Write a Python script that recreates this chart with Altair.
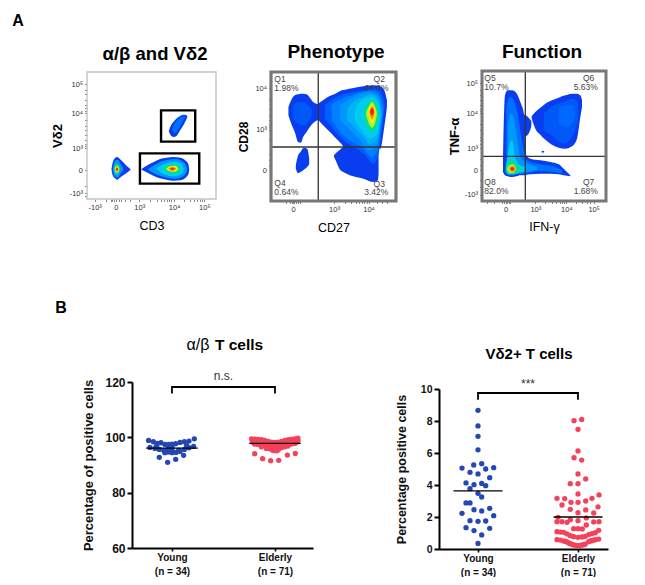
import altair as alt
import pandas as pd

FONT = "Liberation Sans"

# ---------- B panels: swarm values ----------
AB_YOUNG_OFF = [-.227,-.181,-.142,-.107,-.068,-.032,0,.036,.078,.12,.165,.217,
                -.214,-.165,-.123,-.078,-.036,0,.039,.078,.12,.165,.21,
                -.123,-.042,.036,.113,-.068,0,.065,-.149,.142,0,-.036]
AB_YOUNG_VAL = [98.88,98.4,97.8,98.04,97.44,97.44,97.56,97.68,98.16,98.4,98.64,99.48,
                96.36,96,95.64,95.16,94.68,94.44,94.56,94.92,95.64,96.24,96.72,
                92.76,90.96,92.04,93.48,94.44,95.4,95.4,96.96,97.08,96.36,96]
AB_ELD_OFF = [-.227,-.194,-.162,-.129,-.097,-.065,-.032,0,.032,.065,.097,.129,.162,.194,.223,
              -.22,-.188,-.155,-.123,-.091,-.058,-.026,.006,.039,.071,.104,.136,.168,.201,.223,
              -.197,-.165,-.133,-.1,-.068,-.036,0,.032,.065,.097,.129,.162,.194,
              -.197,-.12,-.042,.036,.12,.197,
              -.181,-.149,-.117,-.084,-.052,-.019,.019,.052,.084,.117,.149,.181,.214,-.207,
              -.019,.019,-.084,-.052,.052,.094,.126,-.133]
AB_ELD_VAL = [99.48,99.36,99.24,99.12,98.88,98.52,98.28,98.16,98.28,98.52,98.88,99.12,99.36,99.48,99.72,
              98.64,98.52,98.4,98.16,97.92,97.56,97.2,97.08,97.32,97.68,98.04,98.28,98.52,98.76,98.88,
              97.56,97.44,97.2,96.96,96.36,95.76,95.16,95.64,96.36,96.96,97.32,97.56,97.8,
              94.08,92.28,91.56,91.68,93.6,94.2,
              98.04,97.8,97.56,97.32,96.72,96.36,96.36,96.84,97.32,97.68,97.92,98.16,98.28,98.04,
              95.28,95.16,96,95.88,96.12,96.6,96.84,96.6]
VD_YOUNG_OFF = [0,0,0,0,-.16,-.043,.037,.077,.157,-.08,0,.117,-.12,-.04,.037,.077,-.08,0,.037,
                -.12,-.08,.117,-.04,.037,-.16,.157,-.08,0,.077,-.12,-.04,.117,.037,0]
VD_YOUNG_VAL = [8.67,7.69,7.04,6.2,5.06,5.25,5.33,5.0,5.08,4.79,4.69,4.46,4.13,4.02,4.1,3.96,3.77,3.48,3.25,
                2.88,2.88,2.54,2.46,2.38,2.23,2.08,1.77,1.73,1.75,1.33,1.15,1.29,.88,.35]
VD_ELD_OFF = [-.04,.037,0,0,-.04,.037,0,.077,-.077,0,0,.21,-.21,-.133,.14,.077,-.07,0,
              -.16,.2,-.077,.077,0,.157,-.2,-.21,-.16,-.11,0,-.077,.083,.157,.21,.083,
              -.043,0,.043,
              -.21,-.177,-.143,-.11,-.077,-.043,0,.04,.073,.107,.14,.173,.207,
              -.21,-.177,-.143,-.11,-.077,-.043,0,.04,.073,.107,.14,.173,.207,
              -.06,-.02,.02,.057,-.093,-.127,.123,.157]
VD_ELD_VAL = [8.02,8.1,7.48,6.13,5.71,5.56,4.69,4.38,4.08,4.08,3.44,3.38,3.17,3.15,3.17,3.0,2.92,2.92,
              2.75,2.63,2.48,2.44,2.27,2.25,1.98,1.71,1.71,1.67,1.77,1.83,1.94,1.69,1.71,1.5,
              1.27,1.27,1.25,
              1.08,1.06,1.04,.94,.83,.77,.73,.75,.79,.9,.96,1.02,1.17,
              .58,.56,.5,.44,.33,.25,.21,.25,.31,.46,.52,.58,.62,
              .29,.23,.23,.27,.38,.48,.5,.56]
MEANS_AB = [96.1, 97.8]
MEANS_VD = [3.63, 2.0]
GROUP_LABELS = ["Young", "(n = 34)", "Elderly", "(n = 71)"]
BLUE, RED = "#2347b5", "#f5415a"

# ---------- A panels: density contours, channel units (x, top, bottom) ----------
C = ["#0a3cf0", "#0070ff", "#0098ff", "#00ccf0", "#00e090", "#b0f030", "#f8f000", "#ff9000", "#f02000"]

A1_BLOBS = [
 (C[0], [(386,275,275),(392,258,287),(400,247,292),(410,236,288),(420,229,272),(430,225,256),(438,226,240),(442,232,232)]),
 (C[1], [(396,270,270),(403,252,280),(412,240,274),(422,233,256),(432,230,238),(436,233,233)]),
 (C[0], [(215,388,388),(218,372,405),(225,356,415),(232,352,420),(240,358,414),(250,368,407),(260,378,400),(272,389,390)]),
 (C[2], [(219,388,388),(222,372,405),(228,362,412),(234,360,414),(242,372,402),(250,385,392)]),
 (C[4], [(222,388,388),(225,378,400),(230,372,405),(236,375,402),(242,388,388)]),
 (C[6], [(225,388,388),(228,380,398),(234,380,398),(238,388,388)]),
 (C[7], [(227,388,388),(231,382,396),(236,388,388)]),
 (C[8], [(228,388,388),(231.5,384,394),(235,389,389)]),
 (C[0], [(305,388,390),(320,378,398),(340,368,408),(360,358,416),(380,354,420),(400,352,423),(420,354,422),(435,362,415),(445,375,402),(447,388,390)]),
 (C[2], [(325,387,390),(345,376,402),(365,365,410),(385,360,415),(405,358,417),(425,364,412),(438,378,400),(441,388,388)]),
 (C[3], [(350,386,389),(365,376,400),(385,369,408),(405,366,410),(425,375,402),(432,388,388)]),
 (C[4], [(368,387,387),(380,378,398),(400,373,402),(418,378,397),(424,388,388)]),
 (C[6], [(378,387,387),(390,380,395),(405,378,396),(415,387,387)]),
 (C[7], [(385,387,387),(397,381,393),(410,387,387)]),
 (C[8], [(390,387,387),(397,384,391),(404,387,387)]),
]
A2_BLOBS = [
 (C[0], [(176,200,225),(185,178,252),(195,165,275),(205,162,305),(213,160,307),(220,160,290),(230,162,275),(240,172,260),(250,185,248),(265,192,238)]),
 ("#0058f8", [(190,195,235),(205,185,250),(220,185,255),(235,195,245),(245,205,230)]),
 (C[0], [(198,375,385),(205,345,398),(212,335,395),(222,322,388),(232,325,380),(238,355,372)]),
 (C[0], [(312,345,349),(318,338,362),(328,330,385),(345,318,398),(370,318,408),(400,318,415),(430,318,425),(443,318,420),(445,320,400)]),
 (C[0], [(262,192,236),(275,183,250),(290,172,265),(305,165,280),(320,158,296),(335,150,312),(345,148,325),(370,143,325),(400,138,325),(430,135,325),(450,138,325),(462,150,260),(470,180,200)]),
 ("#0060ff", [(285,195,235),(310,175,265),(340,162,300),(370,155,320),(400,150,340),(430,145,370),(445,150,340),(458,170,240),(463,195,200)]),
 ("#0080ff", [(305,190,240),(335,175,280),(365,165,305),(395,155,320),(425,150,350),(443,158,325),(455,180,245),(460,205,210)]),
 (C[2], [(330,195,240),(360,175,270),(390,160,300),(420,155,330),(442,165,310),(452,190,250),(456,215,220)]),
 ("#00b4f8", [(352,205,240),(375,180,262),(400,170,290),(420,162,312),(441,172,295),(450,200,245),(453,215,225)]),
 (C[3], [(375,205,240),(395,180,270),(420,170,295),(440,180,280),(449,210,240)]),
 (C[4], [(400,210,235),(412,190,260),(425,178,275),(438,192,262),(445,215,235)]),
 (C[5], [(408,215,225),(416,198,250),(425,185,262),(434,198,250),(440,215,225)]),
 (C[6], [(414,215,215),(420,198,240),(426,190,250),(432,200,238),(436,215,215)]),
 (C[7], [(417,215,215),(422,202,232),(426,196,238),(431,205,228),(433,215,215)]),
 (C[8], [(420,214,214),(424,204,225),(428,204,225),(431,214,214)]),
]
A3_BLOBS = [
 (C[0], [(304,228,234),(315,215,265),(330,202,283),(345,190,298),(365,180,313),(385,172,322),(405,165,325),(425,160,318),(440,160,295),(450,165,230),(455,180,200)]),
 ("#0058f8", [(340,220,270),(370,195,290),(400,185,310),(425,175,290),(443,185,240)]),
 ("#0068ff", [(385,205,250),(405,195,260),(425,195,250),(435,215,225)]),
 (C[0], [(333,334,334),(338,331,337),(342,334,334)]),
 (C[0], [(280,222,290),(295,232,280),(303,242,258)]),
 (C[0], [(218,375,395),(224,165,405),(232,150,408),(245,150,410),(258,158,408),(270,185,405),(282,228,405),(285,340,404),(300,355,402),(330,360,400),(360,365,400),(385,372,402),(400,385,405),(420,405,408)]),
 (C[1], [(228,200,400),(238,170,405),(250,180,405),(262,220,400),(275,300,400),(290,360,398),(330,372,392),(370,378,395),(395,390,400)]),
 (C[2], [(232,260,400),(240,220,402),(250,230,402),(258,280,400),(270,350,400),(290,368,395),(320,378,388)]),
 (C[3], [(228,375,395),(236,320,402),(245,300,402),(254,350,398),(265,372,396),(285,380,392)]),
 (C[4], [(226,378,395),(235,362,402),(248,360,402),(262,375,398),(275,385,390)]),
 (C[5], [(230,385,385),(238,374,398),(248,372,398),(258,385,385)]),
 (C[7], [(237,385,385),(243,378,394),(250,378,394),(256,385,385)]),
 (C[8], [(240,385,385),(246,381,391),(252,385,385)]),
]

# gate rectangles (x, x2, y, y2) and quadrant lines
A1_GATES = [(363,465,212,306),(300,477,341,432)]
A2_QUAD = (265, 320)
A3_QUAD = (285, 348)
A2_TEXT = [("Q1",134,117,"left"),("1.98%",134,143,"left"),("Q2",430,115,"left"),("94.0%",403,143,"left"),
           ("Q3",430,430,"left"),("3.42%",402,456,"left"),("Q4",134,428,"left"),("0.64%",134,456,"left")]
A3_TEXT = [("Q5",162,112,"left"),("10.7%",162,140,"left"),("Q6",458,112,"left"),("5.63%",430,141,"left"),
           ("Q8",162,425,"left"),("82.0%",162,452,"left"),("Q7",458,425,"left"),("1.68%",430,452,"left")]

A1_XT = {165:"-10³",228:"0",298:"10³",402:"10⁴",492:"10⁵"}
A1_YT = {133:"10⁵",221:"10⁴",326:"10³",391:"0",461:"-10³"}
A2_XT = {190:"0",312:"10³",415:"10⁴"}
A2_YT = {143:"10⁴",268:"10³",390:"0"}
A3_XT = {226:"0",315:"10³",408:"10⁴",490:"10⁵"}
A3_YT = {128:"10⁵",218:"10⁴",323:"10³",390:"0",463:"-10³"}
A1_XM = [200,214,218,222,238,242,256,270,330,350,362,372,380,388,394,432,450,462,470,478,484]
A1_YM = [150,162,180,195,205,213,240,258,270,285,300,312,320,440,470]
A2_XM = [170,180,186,194,200,205,210,344,364,378,388,396,403,409,440,455,470]
A2_YM = [180,205,225,240,250,260,300,340,360,378]
A3_XM = [170,190,215,222,230,235,240,345,365,378,388,395,401,437,455,470,480]
A3_YM = [150,165,180,195,205,212,250,270,290,300,312,355,375,420,440]

H = 569
A1 = dict(xd=[142,527], xr=[79,208], yd=[478,97], yr=[191,64])
A2 = dict(xd=[124,497], xr=[263,388], yd=[482,95], yr=[193,64])
A3 = dict(xd=[155,527], xr=[474,598], yd=[482,92], yr=[193,63])
B1 = dict(xd=[0.612,2.369], xr=[124,305], yd=[60,120], yr=[540,374])
B2 = dict(xd=[0.61,2.30], xr=[431,600], yd=[0,10], yr=[541,381])


def sc(dom, rng):
    return alt.Scale(domain=dom, range=rng, nice=False, zero=False)


def X(p, f="x", axis=None):
    return alt.X(f"{f}:Q", scale=sc(p["xd"], p["xr"]), axis=axis, title=None)


def Y(p, f="y", axis=None):
    return alt.Y(f"{f}:Q", scale=sc(p["yd"], p["yr"]), axis=axis, title=None)


def expr(ticks):
    s = "''"
    for k, v in ticks.items():
        s = f"datum.value=={k}?'{v}':({s})"
    return s


def flow_axes(p, xt, yt, xm, ym, xtitle, ytitle, xpad, ypad, ysize=13):
    common = dict(domain=False, grid=False, tickColor="#555", tickSize=2.5, tickWidth=0.7,
                  labelFont=FONT, labelFontSize=7.5, labelColor="#333", labelPadding=2,
                  titleFont=FONT, titleColor="black")
    ax = alt.Axis(orient="bottom", offset=p["yr"][0] - H, values=list(xt) + xm, labelExpr=expr(xt),
                  labelOverlap=False, title=xtitle, titlePadding=xpad, titleFontWeight="normal",
                  titleFontSize=12.5, **common)
    ay = alt.Axis(orient="left", offset=-p["xr"][0], values=list(yt) + ym, labelExpr=expr(yt),
                  labelOverlap=False, title=ytitle, titlePadding=ypad, titleFontWeight="bold",
                  titleFontSize=ysize, **common)
    return ax, ay


def flow_panel(p, blobs, axes, frame_color, frame_w, gates=(), quad=None, texts=()):
    layers = []
    ax, ay = axes
    fr = pd.DataFrame({"x": [p["xd"][0]], "x2": [p["xd"][1]], "y": [p["yd"][0]], "y2": [p["yd"][1]]})
    layers.append(alt.Chart(fr).mark_rect(fillOpacity=0, opacity=0).encode(
        x=alt.X("x:Q", scale=sc(p["xd"], p["xr"]), axis=ax), x2="x2:Q",
        y=alt.Y("y:Q", scale=sc(p["yd"], p["yr"]), axis=ay), y2="y2:Q"))
    rows = []
    for i, (col, cols) in enumerate(blobs):
        for (x, t, b) in cols:
            rows.append({"id": f"{i:02d}", "c": col, "x": x, "y": t, "y2": b})
    layers.append(alt.Chart(pd.DataFrame(rows)).mark_area(interpolate="monotone").encode(
        x=X(p), y=Y(p), y2="y2:Q", detail="id:N", color=alt.Color("c:N", scale=None)))
    if quad:
        q1 = pd.DataFrame({"x": [quad[0]], "y": [p["yd"][0]], "y2": [p["yd"][1]]})
        q2 = pd.DataFrame({"x": [p["xd"][0]], "x2": [p["xd"][1]], "y": [quad[1]]})
        layers.append(alt.Chart(q1).mark_rule(color="#333", strokeWidth=1.3).encode(x=X(p), y=Y(p), y2="y2:Q"))
        layers.append(alt.Chart(q2).mark_rule(color="#333", strokeWidth=1.3).encode(x=X(p), x2="x2:Q", y=Y(p)))
    if texts:
        tdf = pd.DataFrame(texts, columns=["t", "x", "y", "a"])
        layers.append(alt.Chart(tdf).mark_text(align="left", baseline="middle", font=FONT, fontSize=8.5, color="#444").encode(
            x=X(p), y=Y(p), text="t:N"))
    if gates:
        gdf = pd.DataFrame(gates, columns=["x", "x2", "y", "y2"])
        layers.append(alt.Chart(gdf).mark_rect(fillOpacity=0, stroke="black", strokeWidth=2.4).encode(
            x=X(p), x2="x2:Q", y=Y(p), y2="y2:Q"))
    layers.append(alt.Chart(fr).mark_rect(fillOpacity=0, stroke=frame_color, strokeWidth=frame_w).encode(
        x=X(p), x2="x2:Q", y=Y(p), y2="y2:Q"))
    return layers


def swarm_panel(p, young, eld, means, ticks, ytitle, ypad, lab_size, title_size, bracket, star, tick_label_expr, mean_half):
    layers = []
    ax = alt.Axis(orient="bottom", offset=p["yr"][0] - H, values=[1, 2], grid=False, domainColor="black", domainWidth=2,
                  tickColor="black", tickWidth=1.6, tickSize=3, labelFont=FONT, labelFontWeight="bold", labelFontSize=10,
                  labelColor="#111", labelPadding=1, labelLineHeight=14, labelExpr=tick_label_expr, title=None, labelAngle=0)
    ay = alt.Axis(orient="left", offset=-p["xr"][0], values=ticks, grid=False, domainColor="black", domainWidth=2,
                  tickColor="black", tickWidth=2, tickSize=5, labelFont=FONT, labelFontWeight="bold", labelFontSize=lab_size,
                  labelColor="#111", labelPadding=2, title=ytitle, titleFont=FONT, titleFontWeight="bold",
                  titleFontSize=title_size, titleColor="#111", titlePadding=ypad)
    for k, (off, val, col) in enumerate([young + (BLUE,), eld + (RED,)]):
        df = pd.DataFrame({"x": [k + 1 + o for o in off], "y": val})
        layers.append(alt.Chart(df).mark_point(filled=True, shape="circle", size=28, opacity=1, color=col).encode(
            x=X(p, axis=ax if k == 0 else None), y=Y(p, axis=ay if k == 0 else None)))
    mdf = pd.DataFrame({"x": [1 - mean_half, 2 - mean_half], "x2": [1 + mean_half, 2 + mean_half], "y": means})
    layers.append(alt.Chart(mdf).mark_rule(color="black", strokeWidth=1.4).encode(x=X(p), x2="x2:Q", y=Y(p)))
    bdf = pd.DataFrame({"x": [1, 1, 2, 2], "y": [bracket[0], bracket[1], bracket[1], bracket[0]], "o": [0, 1, 2, 3]})
    layers.append(alt.Chart(bdf).mark_line(color="black", strokeWidth=1.8, interpolate="linear").encode(
        x=X(p), y=Y(p), order="o:Q"))
    sdf = pd.DataFrame({"x": [1.5], "y": [star[1]], "t": [star[0]]})
    layers.append(alt.Chart(sdf).mark_text(font=FONT, fontSize=12, baseline="middle", color="#333").encode(
        x=X(p), y=Y(p), text="t:N"))
    return layers


def label(text, px, py, size, weight="bold", align="center", color="black"):
    return alt.Chart(pd.DataFrame({"t": [text]})).mark_text(
        font=FONT, fontSize=size, fontWeight=weight, align=align, baseline="middle", color=color).encode(
        x=alt.value(px - 8), y=alt.value(py - 8), text="t:N")


group_expr = f"datum.value==1?['{GROUP_LABELS[0]}','{GROUP_LABELS[1]}']:['{GROUP_LABELS[2]}','{GROUP_LABELS[3]}']"

layers = []
layers += flow_panel(A1, A1_BLOBS, flow_axes(A1, A1_XT, A1_YT, A1_XM, A1_YM, "CD3", "Vδ2", 8, 5),
                     "#c4c4c4", 1.4, gates=A1_GATES)
layers += flow_panel(A2, A2_BLOBS, flow_axes(A2, A2_XT, A2_YT, A2_XM, A2_YM, "CD27", "CD28", 8, 4, ysize=12),
                     "#777777", 3.2, quad=A2_QUAD, texts=A2_TEXT)
layers += flow_panel(A3, A3_BLOBS, flow_axes(A3, A3_XT, A3_YT, A3_XM, A3_YM, "IFN-γ", "TNF-α", 7, 3),
                     "#777777", 3.0, quad=A3_QUAD, texts=A3_TEXT)
layers += swarm_panel(B1, (AB_YOUNG_OFF, AB_YOUNG_VAL), (AB_ELD_OFF, AB_ELD_VAL), MEANS_AB, [60, 80, 100, 120],
                      "Percentage of positive cells", 9, 12, 13, (115.8, 118.2), ("n.s.", 122.2), group_expr, 0.25)
layers += swarm_panel(B2, (VD_YOUNG_OFF, VD_YOUNG_VAL), (VD_ELD_OFF, VD_ELD_VAL), MEANS_VD, [0, 2, 4, 6, 8, 10],
                      "Percentage positive cells", 12, 10.5, 12.5, (9.33, 9.75), ("***", 10.3), group_expr, 0.245)
layers += [
    label("A", 18, 21, 16),
    label("B", 61, 308, 16),
    label("α/β and Vδ2", 155, 54, 18.5),
    label("Phenotype", 336, 52, 19),
    label("Function", 542, 52, 19),
    label("α/β", 198, 345, 16, weight="normal"),
    label("T cells", 239, 345, 15.5),
    label("Vδ2+ T cells", 529, 354, 15),
]

chart = alt.layer(*layers).resolve_scale(x="independent", y="independent", color="independent").properties(
    width=629, height=H, padding=0, autosize=alt.AutoSizeParams(type="none")
).configure_view(stroke=None)

chart.save("out.html", embed_options={"renderer": "svg", "actions": False})
